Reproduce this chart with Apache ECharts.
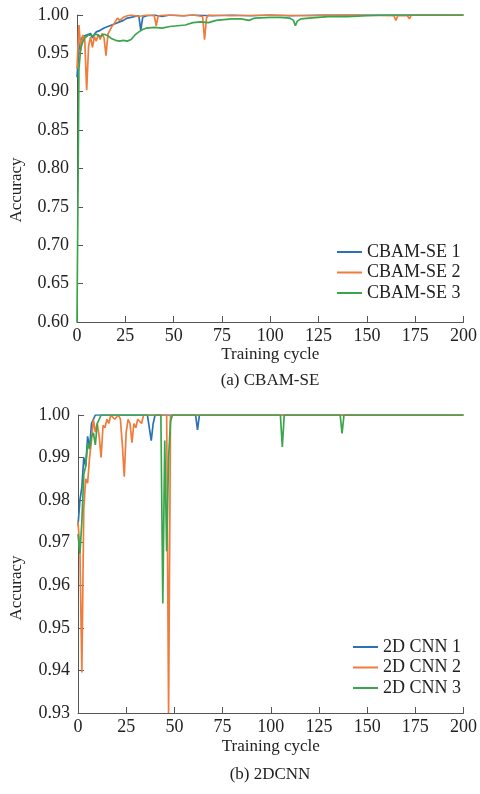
<!DOCTYPE html>
<html>
<head>
<meta charset="utf-8">
<script src="https://cdn.jsdelivr.net/npm/echarts@6/dist/echarts.min.js"></script>
<style>
html,body{margin:0;padding:0;background:#fff;}
#chart{width:480px;height:794px;}
</style>
</head>
<body>
<div id="chart"></div>
<script>
// x tick labels: 0..200 step 25 ; y ticks top 0.60..1.00 step 0.05 ; bottom 0.93..1.00 step 0.01
const xTicks = [0, 25, 50, 75, 100, 125, 150, 175, 200];
const topNames = ['CBAM-SE 1', 'CBAM-SE 2', 'CBAM-SE 3'];
const botNames = ['2D CNN 1', '2D CNN 2', '2D CNN 3'];

// [epoch, accuracy]
const cbam1 = [[0,0.919],[1,0.955],[2,0.968],[3,0.972],[4,0.970],[5,0.974],[6,0.972],[7,0.976],[8,0.970],[9,0.975],[10,0.978],[11,0.976],[12,0.980],[13,0.979],[14,0.983],[15,0.982],[16,0.985],[17,0.984],[18,0.987],[19,0.986],[20,0.989],[22,0.991],[24,0.993],[26,0.996],[28,0.997],[30,0.998],[32,0.999],[33,0.980],[34,0.997],[36,0.999],[40,1.0],[44,0.998],[48,1.0],[55,0.999],[60,1.0],[70,0.999],[80,1.0],[90,0.999],[100,1.0],[110,0.999],[125,1.0],[200,1.0]];
const cbam2 = [[0,0.930],[1,0.987],[2,0.954],[3,0.974],[4,0.968],[5,0.902],[6,0.960],[7,0.971],[8,0.958],[9,0.972],[10,0.966],[11,0.975],[12,0.968],[13,0.976],[14,0.970],[15,0.947],[16,0.975],[17,0.980],[18,0.985],[19,0.988],[20,0.992],[21,0.996],[22,0.993],[24,0.997],[26,0.999],[28,1.0],[32,0.998],[36,1.0],[40,0.999],[41,0.986],[42,0.999],[46,1.0],[55,0.999],[60,1.0],[65,0.998],[66,0.968],[67,0.996],[68,1.0],[80,0.999],[100,1.0],[120,0.999],[140,1.0],[164,0.999],[165,0.993],[166,0.999],[171,0.999],[172,0.995],[173,1.0],[200,1.0]];
const cbam3 = [[0,0.600],[1,0.930],[2,0.958],[3,0.965],[4,0.970],[5,0.972],[6,0.974],[8,0.973],[10,0.975],[12,0.972],[14,0.975],[16,0.973],[18,0.969],[20,0.967],[22,0.966],[24,0.967],[26,0.966],[28,0.968],[30,0.974],[32,0.978],[34,0.981],[36,0.983],[40,0.984],[44,0.983],[48,0.985],[52,0.986],[56,0.987],[60,0.990],[64,0.991],[68,0.990],[72,0.993],[76,0.994],[80,0.995],[85,0.995],[89,0.993],[92,0.996],[100,0.997],[105,0.997],[110,0.996],[112,0.993],[113,0.986],[114,0.992],[116,0.995],[120,0.996],[130,0.998],[140,0.998],[150,0.999],[160,1.0],[200,1.0]];

const cnn1 = [[0,0.974],[1,0.980],[2,0.983],[3,0.990],[4,0.988],[5,0.995],[6,0.992],[7,0.998],[8,0.999],[9,1.0],[36,1.0],[37,0.997],[38,0.994],[39,0.998],[40,1.0],[61,1.0],[62,0.9965],[63,1.0],[200,1.0]];
const cnn2 = [[0,0.975],[1,0.968],[2,0.9395],[3,0.978],[4,0.985],[5,0.984],[6,0.990],[7,0.994],[8,0.999],[9,0.996],[10,0.998],[11,0.995],[12,0.990],[13,0.9976],[14,0.997],[15,0.999],[16,0.998],[17,1.0],[19,0.999],[21,1.0],[22,0.999],[23,0.993],[24,0.9855],[25,0.996],[26,0.999],[27,0.998],[28,0.9935],[29,0.998],[30,0.997],[31,0.999],[33,0.998],[34,1.0],[46,1.0],[47,0.93],[48,1.0],[200,1.0]];
const cnn3 = [[0,0.972],[1,0.9675],[2,0.975],[3,0.986],[4,0.988],[5,0.9934],[6,0.992],[7,0.995],[8,0.9958],[9,0.993],[10,0.998],[11,0.999],[12,1.0],[43,1.0],[44,0.9557],[45,0.994],[46,0.968],[47,0.990],[48,0.9985],[49,1.0],[105,1.0],[106,0.9925],[107,1.0],[136,1.0],[137,0.9957],[138,1.0],[200,1.0]];

const colors = ['#2c72b2', '#f07b3a', '#3ba54b'];
const FONT = 'Liberation Serif';
const axisCol = '#555';

function xAxisCfg(gi, gap) {
  return {
    gridIndex: gi, type: 'value', min: xTicks[0], max: xTicks[xTicks.length-1], interval: 25,
    name: 'Training cycle', nameLocation: 'middle', nameGap: gap,
    nameTextStyle: {fontFamily: FONT, fontSize: 17, color: '#222'},
    axisLine: {show: true, onZero: false, lineStyle: {color: axisCol, width: 1}},
    axisTick: {show: true, inside: true, length: 6, lineStyle: {color: axisCol}},
    axisLabel: {fontFamily: FONT, fontSize: 18, color: '#222', margin: 5},
    splitLine: {show: false}
  };
}
function yAxisCfg(gi, min, max, interval) {
  return {
    gridIndex: gi, type: 'value', min: min, max: max, interval: interval,
    axisLine: {show: true, lineStyle: {color: axisCol, width: 1}},
    axisTick: {show: true, inside: true, length: 6, lineStyle: {color: axisCol}},
    axisLabel: {fontFamily: FONT, fontSize: 18, color: '#222', margin: 8,
      formatter: v => v.toFixed(2)},
    splitLine: {show: false}
  };
}
function line(name, data, ci, xi) {
  return {
    name: name, type: 'line', data: data, xAxisIndex: xi, yAxisIndex: xi,
    showSymbol: false, symbol: 'none', clip: true,
    lineStyle: {color: colors[ci], width: 1.7}, itemStyle: {color: colors[ci]},
    emphasis: {disabled: true}
  };
}

const chart = echarts.init(document.getElementById('chart'), null, {renderer: 'canvas'});
chart.setOption({
  animation: false,
  backgroundColor: '#fff',
  grid: [
    {left: 77, top: 15, width: 388, height: 307},
    {left: 78, top: 415, width: 386, height: 298}
  ],
  xAxis: [xAxisCfg(0, 24), xAxisCfg(1, 25)],
  yAxis: [yAxisCfg(0, 0.6, 1.0, 0.05), yAxisCfg(1, 0.93, 1.0, 0.01)],
  legend: [
    {data: topNames, orient: 'vertical', left: 332, top: 238, itemWidth: 25, itemHeight: 2, icon: 'rect', itemGap: 2.5,
      textStyle: {fontFamily: FONT, fontSize: 18, color: '#222', lineHeight: 18}},
    {data: botNames, orient: 'vertical', left: 348, top: 633, itemWidth: 25, itemHeight: 2, icon: 'rect', itemGap: 2.5,
      textStyle: {fontFamily: FONT, fontSize: 18, color: '#222', lineHeight: 18}}
  ],
  series: [
    line(topNames[0], cbam1, 0, 0), line(topNames[1], cbam2, 1, 0), line(topNames[2], cbam3, 2, 0),
    line(botNames[0], cnn1, 0, 1), line(botNames[1], cnn2, 1, 1), line(botNames[2], cnn3, 2, 1)
  ],
  graphic: [
    {type: 'text', x: 17, y: 190, rotation: Math.PI/2, style: {text: 'Accuracy', font: '17px "Liberation Serif"', fill: '#222', align: 'center', verticalAlign: 'middle'}},
    {type: 'text', x: 17, y: 588, rotation: Math.PI/2, style: {text: 'Accuracy', font: '17px "Liberation Serif"', fill: '#222', align: 'center', verticalAlign: 'middle'}},
    {type: 'text', x: 270, y: 381, style: {text: '(a) CBAM-SE', font: '17px "Liberation Serif"', fill: '#222', align: 'center', verticalAlign: 'middle'}},
    {type: 'text', x: 270, y: 775, style: {text: '(b) 2DCNN', font: '17px "Liberation Serif"', fill: '#222', align: 'center', verticalAlign: 'middle'}}
  ]
});
</script>
</body>
</html>
